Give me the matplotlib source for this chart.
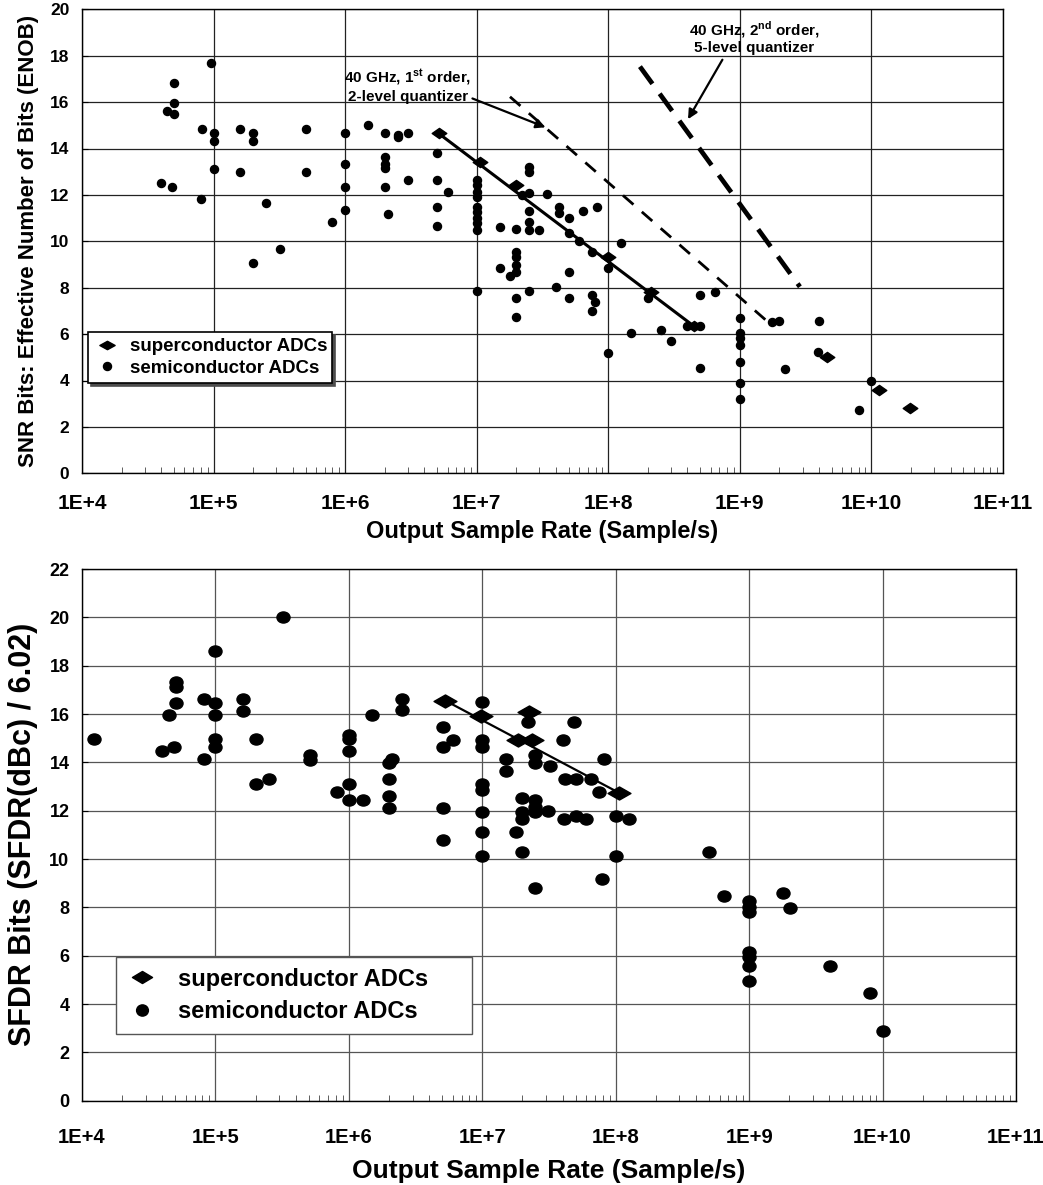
import numpy as np
import matplotlib
matplotlib.use('Agg')
import matplotlib.pyplot as plt
from matplotlib.path import Path
from matplotlib.lines import Line2D
from matplotlib.ticker import LogLocator, FixedLocator, NullFormatter

plt.rcParams['font.family'] = ['Liberation Sans', 'DejaVu Sans']
plt.rcParams['font.weight'] = 'bold'
plt.rcParams['mathtext.fontset'] = 'custom'
plt.rcParams['mathtext.rm'] = 'Liberation Sans:bold'
plt.rcParams['mathtext.bf'] = 'Liberation Sans:bold'

# ---- top chart: SNR bits (ENOB) ----
semi_top_x = [9.6e4, 5.0e4, 5.0e4, 4.4e4, 5.0e4, 8.1e4, 1e5, 1e5, 1.6e5, 2e5, 2e5, 5e5,
              1e6, 1.5e6, 2e6, 2.5e6, 2.5e6, 3e6, 1e5, 1.6e5, 5e5, 1e6, 2e6, 2e6, 2e6,
              1e6, 2e6, 3e6, 4e4, 4.85e4, 8e4, 2.5e5, 1e6, 8e5, 2.1e6, 3.2e5, 2e5,
              5e6, 5e6, 6e6, 5e6, 5e6,
              1e7, 1e7, 1e7, 1e7, 1e7, 1e7, 1e7, 1e7, 1e7, 1e7,
              1.5e7, 1.5e7, 1.8e7,
              2e7, 2e7, 2e7, 2e7, 2e7, 2e7, 2e7, 2.2e7,
              2.5e7, 2.5e7, 2.5e7, 2.5e7, 2.5e7, 2.5e7, 2.5e7,
              3e7, 3.4e7, 4.2e7, 4.2e7, 4e7, 5e7, 5e7, 5e7, 5e7, 6e7, 6.4e7, 8.2e7,
              7.5e7, 7.5e7, 7.9e7, 7.5e7, 1e8, 1e8, 1.26e8, 1.5e8, 2e8, 2.5e8, 3e8,
              4e8, 5e8, 5e8, 5e8, 6.5e8,
              3.9e9, 1e10, 8.1e9, 4e9, 1.74e9, 2e9, 2.2e9,
              1e9, 1e9, 1e9, 1e9, 1e9, 1e9, 1e9]
semi_top_y = [17.67, 16.84, 15.98, 15.63, 15.47, 14.83, 14.66, 14.31, 14.83, 14.66, 14.31, 14.83,
              14.66, 15.0, 14.66, 14.6, 14.5, 14.66, 13.12, 12.99, 12.99, 13.33, 13.65, 13.33, 13.15,
              12.33, 12.33, 12.66, 12.5, 12.33, 11.84, 11.67, 11.34, 10.83, 11.18, 9.67, 9.08,
              13.82, 12.66, 12.14, 11.49, 10.66,
              12.64, 12.43, 12.14, 11.93, 11.49, 11.28, 10.99, 10.78, 10.49, 7.86,
              10.6, 8.86, 8.5,
              10.52, 9.55, 9.31, 8.98, 8.69, 7.54, 6.72, 12.0,
              13.22, 13.0, 12.1, 11.32, 10.85, 10.49, 7.86,
              10.49, 12.04, 11.49, 11.2, 8.02, 10.99, 10.34, 8.66, 7.54, 10.03, 11.32, 11.47,
              9.53, 7.69, 7.37, 7.01, 8.84, 5.17, 9.94, 6.03, 7.54, 6.18, 5.69,
              6.35, 7.67, 6.35, 4.53, 7.82,
              5.24, 3.99, 2.73, 6.58, 6.51, 6.58, 4.48,
              6.68, 6.03, 5.82, 5.53, 4.81, 3.88, 3.20]
super_top_x = [5.2e6, 1.05e7, 2.0e7, 1.0e8, 2.1e8, 4.5e8, 4.6e9, 1.15e10, 1.95e10]
super_top_y = [14.66, 13.43, 12.43, 9.31, 7.8, 6.35, 5.03, 3.59, 2.8]
fit_top_x = [5.0e6, 4.7e8]
fit_top_y = [14.7, 6.25]
first_order_x = [1.79e7, 1.6e9]
first_order_y = [16.23, 6.57]
second_order_x = [1.74e8, 2.86e9]
second_order_y = [17.53, 8.04]

# ---- bottom chart: SFDR bits ----
semi_bot_x = [3.2e5, 1e5, 5.1e4, 5.1e4, 5.1e4, 4.5e4, 8.2e4, 1e5, 1e5, 1e5, 1e5,
              1.6e5, 1.6e5, 1.22e4, 4e4, 4.9e4, 8.2e4, 2e5, 2e5, 2.5e5, 5.1e5, 5.1e5,
              1e6, 1e6, 1e6, 1e6, 1e6, 8.1e5, 1.28e6, 1.5e6, 2e6, 2.1e6, 2e6, 2e6, 2e6,
              2.5e6, 2.5e6, 5.1e6, 5.1e6, 6e6, 5.1e6, 5.1e6,
              1e7, 1e7, 1e7, 1e7, 1e7, 1e7, 1e7, 1e7,
              1.5e7, 1.5e7, 1.8e7, 2e7, 2e7, 2e7, 2e7, 2.2e7,
              2.5e7, 2.5e7, 2.5e7, 2.5e7, 2.5e7, 2.5e7,
              3.2e7, 3.1e7, 4e7, 4.2e7, 4.1e7, 4.9e7, 5e7, 5e7, 6e7, 6.5e7, 7.5e7, 8.2e7,
              7.9e7, 1e8, 1e8, 1.26e8, 5e8, 6.5e8,
              1e9, 1e9, 1e9, 1e9, 1e9, 1e9, 1e9, 1.78e9, 2.03e9, 4.06e9, 8.1e9, 1e10]
semi_bot_y = [20.0, 18.62, 17.31, 17.12, 16.45, 15.96, 16.63, 16.45, 15.96, 14.97, 14.64,
              16.63, 16.11, 14.97, 14.45, 14.63, 14.13, 14.97, 13.12, 13.31, 14.30, 14.11,
              15.12, 14.97, 14.45, 13.12, 12.43, 12.78, 12.46, 15.96, 13.96, 14.13, 13.31, 12.6, 12.13,
              16.63, 16.15, 15.46, 14.64, 14.94, 12.13, 10.80,
              16.48, 14.94, 14.64, 13.12, 12.87, 11.94, 11.12, 10.12,
              14.13, 13.64, 11.12, 12.53, 11.94, 11.64, 10.28, 15.68,
              14.30, 13.96, 12.46, 12.16, 11.94, 8.79,
              13.86, 11.98, 14.93, 13.31, 11.64, 15.68, 13.31, 11.79, 11.64, 13.31, 12.78, 14.13,
              9.16, 11.79, 10.12, 11.64, 10.27, 8.46,
              8.28, 8.02, 7.80, 6.14, 5.95, 5.58, 4.94, 8.61, 7.99, 5.58, 4.44, 2.87]
super_bot_x = [5.3e6, 9.8e6, 2.23e7, 1.86e7, 2.34e7, 1.05e8]
super_bot_y = [16.55, 15.93, 16.08, 14.93, 14.93, 12.75]
fit_bot_x = [5.3e6, 1.05e8]
fit_bot_y = [16.55, 12.75]

x_ticks = [1e4, 1e5, 1e6, 1e7, 1e8, 1e9, 1e10, 1e11]
x_labels = ['1E+4', '1E+5', '1E+6', '1E+7', '1E+8', '1E+9', '1E+10', '1E+11']


def diamond(aspect):
    return Path([(-1, 0), (0, aspect), (1, 0), (0, -aspect), (-1, 0)], closed=True)


def ellipse(aspect):
    c = Path.unit_circle()
    v = c.vertices.copy()
    v[:, 1] *= aspect
    return Path(v, c.codes)


def style_axes(ax, ymax, xsize, ysize, xpad, gridc):
    ax.set_xscale('log')
    ax.set_xlim(1e4, 1e11)
    ax.set_ylim(0, ymax)
    ax.xaxis.set_major_locator(FixedLocator(x_ticks))
    ax.set_xticklabels(x_labels, fontsize=xsize, fontweight='bold')
    ax.xaxis.set_minor_locator(LogLocator(base=10, subs=np.arange(2, 10), numticks=20))
    ax.xaxis.set_minor_formatter(NullFormatter())
    ax.set_yticks(np.arange(0, ymax + 1, 2))
    ax.set_yticklabels([str(v) for v in range(0, ymax + 1, 2)], fontsize=ysize, fontweight='bold')
    ax.tick_params(axis='x', which='major', direction='in', length=0, pad=xpad)
    ax.tick_params(axis='x', which='minor', direction='in', length=4, width=0.6, color='#444444')
    ax.tick_params(axis='y', which='major', direction='in', length=4, width=0.8, pad=9)
    ax.grid(True, which='major', color=gridc, lw=0.9)
    for s in ax.spines.values():
        s.set_color('black')
        s.set_linewidth(1.0)
    ax.set_axisbelow(True)


fig = plt.figure(figsize=(10.43, 11.85), dpi=100)
W, H = 1043., 1185.
ax1 = fig.add_axes([82 / W, 1 - 473.3 / H, (1003 - 82) / W, (473.3 - 9.3) / H])
ax2 = fig.add_axes([82 / W, 1 - 1100.7 / H, (1016 - 82) / W, (1100.7 - 569) / H])

# top
style_axes(ax1, 20, 15, 12.5, 15, '#222222')
ax1.plot(first_order_x, first_order_y, color='k', lw=2.0, dashes=(5, 4), zorder=2)
ax1.plot(second_order_x, second_order_y, color='k', lw=3.4, dashes=(4.5, 2.6), zorder=2)
ax1.plot(fit_top_x, fit_top_y, color='k', lw=2.2, zorder=3)
ax1.plot(semi_top_x, semi_top_y, ls='none', marker='o', ms=5.8, color='k', zorder=4)
ax1.plot(super_top_x, super_top_y, ls='none', marker=diamond(0.7), ms=10.5, color='k', zorder=4)
ax1.set_xlabel('Output Sample Rate (Sample/s)', fontsize=17, fontweight='bold', labelpad=5)
ax1.set_ylabel('SNR Bits: Effective Number of Bits (ENOB)', fontsize=16, fontweight='bold', labelpad=8)

ax1.text(3.0e6, 16.7, '40 GHz, 1$^{\\mathbf{st}}$ order,\n2-level quantizer', fontsize=11,
         fontweight='bold', ha='center', va='center', linespacing=1.1, zorder=5)
ax1.annotate('', xy=(3.49e7, 14.87), xytext=(8.87e6, 16.2),
             arrowprops=dict(arrowstyle='-|>', color='k', lw=1.6, mutation_scale=14))
ax1.text(1.28e9, 18.78, '40 GHz, 2$^{\\mathbf{nd}}$ order,\n5-level quantizer', fontsize=11,
         fontweight='bold', ha='center', va='center', linespacing=1.1, zorder=5)
ax1.annotate('', xy=(3.94e8, 15.16), xytext=(7.55e8, 17.93),
             arrowprops=dict(arrowstyle='-|>', color='k', lw=1.6, mutation_scale=14))

h1 = [Line2D([], [], ls='none', marker=diamond(0.55), ms=11, color='k'),
      Line2D([], [], ls='none', marker='o', ms=5.8, color='k')]
leg1 = ax1.legend(h1, ['superconductor ADCs', 'semiconductor ADCs'], loc='lower left',
                  bbox_to_anchor=(0.0065, 0.194, 0.265, 0.12), mode='expand', borderaxespad=0,
                  fancybox=False, shadow={'color': '0.3', 'alpha': 1.0}, edgecolor='k',
                  framealpha=1, prop={'size': 13.5, 'weight': 'bold'}, handlelength=1.3,
                  handletextpad=0.6, labelspacing=0.22, borderpad=0.35)
leg1.get_frame().set_linewidth(1.2)

# bottom
style_axes(ax2, 22, 14.5, 13, 20, '#555555')
ax2.plot(fit_bot_x, fit_bot_y, color='k', lw=1.6, zorder=3)
ax2.plot(semi_bot_x, semi_bot_y, ls='none', marker=ellipse(0.85), ms=9.4, color='k', zorder=4)
ax2.plot(super_bot_x, super_bot_y, ls='none', marker=diamond(0.57), ms=16.5, color='k', zorder=4)
ax2.set_xlabel('Output Sample Rate (Sample/s)', fontsize=19, fontweight='bold', labelpad=8)
ax2.set_ylabel('SFDR Bits (SFDR(dBc) / 6.02)', fontsize=22, fontweight='bold', labelpad=8)

h2 = [Line2D([], [], ls='none', marker=diamond(0.6), ms=14.5, color='k'),
      Line2D([], [], ls='none', marker=ellipse(0.95), ms=8.5, color='k')]
leg2 = ax2.legend(h2, ['superconductor ADCs', 'semiconductor ADCs'], loc='lower left',
                  bbox_to_anchor=(0.036, 0.126, 0.382, 0.14), mode='expand', borderaxespad=0,
                  fancybox=False, edgecolor='#555555', framealpha=1,
                  prop={'size': 17, 'weight': 'bold'}, handlelength=1.3, handletextpad=0.9,
                  labelspacing=0.4, borderpad=0.45)
leg2.get_frame().set_linewidth(1.0)

fig.savefig('out.png', dpi=100)
